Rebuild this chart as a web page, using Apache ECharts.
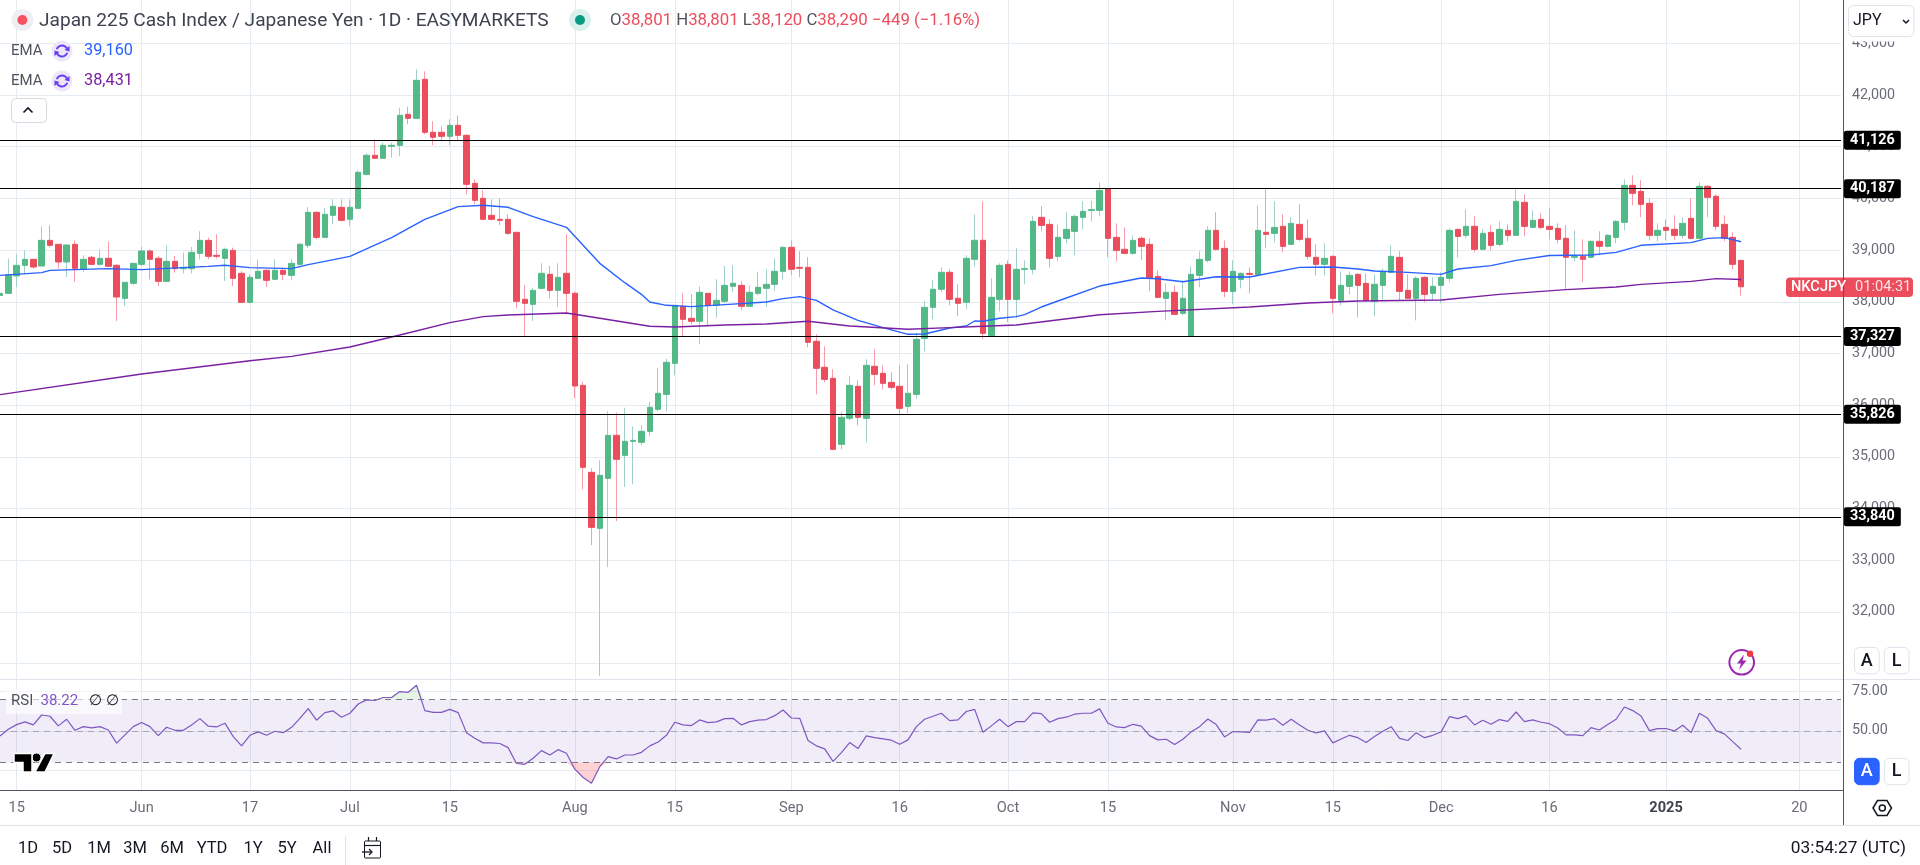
<!DOCTYPE html>
<html><head><meta charset="utf-8"><title>Japan 225</title>
<style>html,body{margin:0;padding:0;background:#fff}#c{width:1920px;height:865px}</style>
<script src="https://cdn.jsdelivr.net/npm/echarts@6/dist/echarts.min.js"></script>
</head><body><div id="c"></div>
<script>
const open=[38124,38163,38498,38705,38821,38692,39188,39111,38769,39111,
38627,38860,38724,38840,38705,38066,38357,38724,38982,38840,
38395,38782,38640,38640,38937,39188,38898,38840,38995,38550,
37989,38453,38608,38434,38608,38511,38724,39092,39730,39246,
39672,39827,39595,39807,40465,40833,40775,41007,41026,41626,
41549,42303,41278,41278,41200,41413,41220,40291,40001,39672,
39595,39595,39343,38047,37951,38260,38531,38221,38550,38163,
36383,34700,33617,34584,35416,35029,35300,35281,35493,35919,
36209,36809,37912,37680,37622,38163,37931,38009,38299,38318,
37912,38163,38260,38337,38589,39053,38666,38666,37235,36732,
36519,35242,35745,36364,35745,36751,36616,36441,36364,35977,
36209,37293,37892,38241,38570,38067,37989,38821,39189,37344,
38046,38724,38046,38627,38627,39633,39497,38878,39227,39362,
39633,39768,39768,40187,39246,39014,38936,39227,39110,38491,
38066,38182,37776,37327,38511,38801,39381,39033,38201,38433,
38549,38530,39343,39323,39459,39110,39497,39227,38859,38724,
38878,38027,38298,38530,38356,38008,38317,38569,38859,38221,
38066,38472,38163,38317,38453,39401,39285,39459,39014,39343,
39110,39381,39285,39923,39439,39594,39459,39420,39227,38860,
38879,38860,39169,39072,39246,39537,40252,40136,39904,39285,
39440,39401,39285,39614,39227,40233,40040,39498,39246,38801];
const high=[38163,38834,38916,38995,38821,39459,39479,39111,39098,39188,
38898,38885,39014,39169,38724,38376,38756,39059,39014,38885,
39092,38885,38950,39059,39363,39240,39305,39047,39047,38595,
38531,38821,38627,38821,38659,38821,39143,39833,39749,39820,
39982,39982,39982,40543,40872,41142,41078,41078,41755,41774,
42497,42458,41491,41394,41529,41607,41239,40368,40156,39982,
40001,39691,39356,38325,38273,38744,38692,38744,39305,38196,
36454,34778,34932,35880,35855,35951,35590,35610,36061,36712,
36899,37931,38163,38144,38299,38163,38434,38692,38705,38395,
38318,38570,38628,38840,39073,39189,38976,38860,37370,37138,
36693,35880,36558,36480,36886,37080,36770,36635,36770,36790,
37402,38009,38415,38666,38628,38337,38899,39690,39943,38454,
38743,38801,39033,38801,39659,39846,39594,39497,39730,39691,
39942,39949,40310,40187,39517,39439,39285,39265,39227,38607,
38356,38317,38414,38685,38975,39459,39730,39188,38801,38569,
38666,39865,40175,39942,39691,39633,39884,39594,39110,39130,
38898,38588,38588,38549,38549,38530,38646,39091,38975,38530,
38491,38491,38472,38569,39420,39401,39788,39652,39401,39478,
39556,39497,40175,40078,39768,39710,39807,39517,39479,39382,
39208,39188,39363,39305,39575,40368,40446,40349,40001,39517,
39595,39672,39633,40001,40311,40252,40078,39672,39343,38801];
const low=[38100,38150,38286,38531,38640,38692,39047,38640,38479,38382,
38576,38711,38692,38685,37628,37918,38318,38692,38434,38305,
38382,38563,38550,38550,38821,38821,38834,38402,38305,37970,
37970,38447,38286,38415,38415,38415,38692,39034,39208,39233,
39498,39562,39466,39801,40446,40775,40768,40788,40813,41433,
41549,41239,41026,41104,41026,41123,40078,39885,39575,39575,
39485,39292,37873,37344,37628,38241,38067,37899,37757,36132,
34371,33294,30760,32869,33759,34416,34468,35223,35397,35880,
35880,36577,37338,37564,37177,37531,37693,37970,38189,37841,
37899,38125,37899,38202,38434,38512,38473,37119,36209,36441,
35126,35145,35706,35610,35281,36383,36306,36306,35822,35842,
36132,37041,37660,38183,37931,37718,37854,38686,37273,37330,
37814,37601,37679,38337,38530,39362,38666,38782,39130,38898,
39401,39556,39652,38859,38782,38917,38917,38801,38201,38085,
37640,37756,37737,37327,38279,38762,38994,38085,37950,38259,
38163,38511,39033,39149,38956,39110,39168,38820,38511,38511,
37776,37930,38143,37698,38008,37718,38046,38569,38027,38066,
37640,37988,38027,37969,38375,38859,39227,38956,39014,38994,
39072,39168,39285,39265,39439,39401,39207,39130,38240,38782,
38376,38860,38898,39053,39130,39382,39866,39633,39188,39169,
39188,39188,39227,39208,39208,39633,39382,39169,38627,38120];
const close=[38163,38524,38705,38821,38672,39188,39092,38769,39098,38647,
38821,38724,38840,38685,38092,38376,38743,38982,38821,38395,
38782,38640,38666,38956,39188,38879,38879,39014,38453,37989,
38473,38589,38415,38608,38531,38743,39111,39730,39246,39691,
39846,39575,39827,40504,40833,40775,41026,41026,41607,41549,
42284,41278,41181,41200,41413,41220,40272,39962,39595,39595,
39575,39324,38008,37970,38221,38550,38221,38473,38163,36371,
34797,33636,34642,35416,34952,35300,35319,35493,35958,36229,
36828,37931,37660,37622,38183,37931,38028,38318,38357,37912,
38183,38279,38337,38589,39053,38628,38647,37215,36712,36499,
35145,35764,36383,35764,36770,36596,36422,36345,35938,36229,
37273,37892,38241,38570,38047,37970,38840,39189,37389,38086,
38704,38046,38627,38640,39556,39478,38840,39246,39401,39652,
39749,39781,40155,39227,38994,38936,39188,39072,38453,38085,
38182,37756,38066,38530,38820,39381,39014,38201,38588,38549,
38530,39381,39304,39439,39072,39517,39207,38878,38724,38840,
38066,38317,38511,38317,38027,38337,38588,38878,38201,38066,
38453,38143,38298,38472,39381,39265,39459,39014,39323,39091,
39401,39285,39942,39459,39575,39439,39401,39207,38860,38879,
38821,39169,39072,39285,39556,40252,40098,39885,39285,39382,
39382,39285,39517,39227,40233,40020,39459,39227,38724,38290];
const emaFastBars=[0,5,6,13,17,25,27,30,35,37,42,47,51,55,58,61,64,68,72,75,77,78,80,83,87,92,94,96,98,100,103,106,109,111,114,116,117,118,120,122,123,125,127,132,137,139,142,146,150,156,160,163,165,169,173,175,179,182,186,191,194,197,203,205,207,209];
const emaFast=[38511,38563,38608,38640,38621,38685,38705,38660,38640,38718,38879,39240,39595,39840,39866,39827,39646,39440,38743,38369,38144,37996,37931,37905,37944,37996,38060,38099,38028,37841,37641,37499,37370,37377,37493,37531,37628,37622,37680,37712,37750,37898,38014,38304,38459,38446,38388,38485,38479,38666,38672,38633,38595,38569,38530,38633,38698,38801,38895,38905,38956,39092,39143,39227,39240,39160];
const emaSlowBars=[0,17,30,35,42,48,54,58,61,68,72,78,81,87,92,97,102,109,114,118,122,132,139,150,157,163,173,180,188,194,197,203,206,209];
const emaSlow=[36203,36602,36860,36944,37125,37357,37596,37712,37744,37783,37680,37525,37512,37551,37570,37622,37531,37467,37499,37525,37551,37750,37814,37898,37976,38014,38034,38143,38234,38286,38337,38395,38447,38431];
const rsi=[46.7,50.9,53.9,55.6,53.7,60.0,59.2,53.1,57.3,50.3,52.6,51.8,52.6,50.5,42.1,47.4,52.6,55.2,52.6,46.9,52.2,50.3,50.3,53.7,57.7,52.9,52.4,54.8,46.3,40.4,47.1,49.3,47.1,49.7,48.8,52.2,57.9,64.1,56.7,61.5,62.6,58.6,61.1,67.0,69.6,69.2,71.1,71.1,74.9,74.4,78.9,62.8,61.7,61.7,63.6,61.5,48.8,45.2,42.3,42.3,41.9,39.3,29.2,28.7,32.5,37.4,34.6,38.0,35.7,25.6,20.3,16.7,27.2,33.6,32.1,34.6,34.6,36.3,40.4,42.9,47.1,55.4,53.7,53.3,56.9,55.2,55.6,57.7,57.9,53.7,55.8,56.7,57.1,59.6,63.2,58.1,57.9,43.8,40.4,38.5,30.6,36.1,42.5,38.7,46.7,45.6,44.8,44.0,41.4,44.2,52.6,57.3,59.2,61.1,56.4,
56.9,62.2,63.6,49.0,53.1,57.3,52.6,55.8,55.8,61.3,60.9,55.4,57.7,58.6,60.5,61.1,61.1,63.9,54.8,52.4,52.0,54.1,52.9,46.9,44.2,44.6,41.2,44.6,49.3,52.6,57.5,53.9,46.1,49.5,49.3,49.0,56.9,56.7,57.7,53.5,57.3,53.7,50.3,48.6,49.9,42.3,44.8,47.1,45.6,42.5,46.3,49.7,52.6,45.2,43.8,48.8,45.6,47.1,49.3,59.0,57.7,59.4,53.7,56.7,54.1,57.1,56.0,61.9,55.8,56.9,55.4,54.5,51.8,47.4,47.4,46.9,52.0,50.5,53.9,57.3,65.1,62.8,59.4,50.1,51.4,51.4,49.9,53.5,48.8,61.1,57.9,50.1,48.0,43.1,38.22];
const levels=[41126,40187,37327,35826,33840];
const tickDates=['2024-05-15','2024-06-02','2024-06-17','2024-07-01','2024-07-15','2024-08-01','2024-08-15','2024-09-01','2024-09-16','2024-10-01','2024-10-15','2024-11-01','2024-11-15','2024-12-01','2024-12-16','2025-01-01','2025-01-20'];
const tickLabels=['15','Jun','17','Jul','15','Aug','15','Sep','16','Oct','15','Nov','15','Dec','16','2025','20'];
const rangeButtons=['1D','5D','1M','3M','6M','YTD','1Y','5Y','All'];
const rangeX=[28,62,99,135,172,212,253,287,322];

// trading calendar: the feed has Sunday-to-Friday daily bars
const categories=[];
for(let t=Date.UTC(2024,4,13);categories.length<222;t+=864e5){
  const d=new Date(t); if(d.getUTCDay()!==6) categories.push(d.toISOString().slice(0,10));
}
const tickSet=new Set(tickDates);
const isTick=(i,v)=>tickSet.has(v===undefined?categories[i]:v);
const UP='#53b987',DOWN='#eb4d5c',WUP='#a3cfcb',WDOWN='#f79bab',GRID='#e4ebf1',AX='#50535e',TXT='#6a6d78';
const FONT='Roboto, sans-serif';
const wicks=open.map((o,i)=>[o,close[i],low[i],high[i]]);
const bodies=open.map((o,i)=>[o,close[i],Math.min(o,close[i]),Math.max(o,close[i])]);
const pair=(b,v)=>b.map((x,i)=>[x,v[i]]);
const lowBand=rsi.map((v,i)=>(v<30||rsi[i-1]<30||rsi[i+1]<30)?Math.min(v,30):null);
const highBand=rsi.map((v,i)=>(v>70||rsi[i-1]>70||rsi[i+1]>70)?Math.max(v,70):null);

const W=1841;
const txt=(x,y,s,o={})=>({type:'text',z:o.z||60,silent:true,x,y,style:Object.assign({text:s,fill:'#131722',font:(o.weight||'400')+' '+(o.size||15)+'px '+FONT,textAlign:o.align||'left',textVerticalAlign:'middle'},o.style||{})});
const box=(x,y,w,h,fill,stroke,r,z)=>({type:'rect',z:z||55,silent:true,shape:{x,y,width:w,height:h,r:r||0},style:{fill,stroke:stroke||null,lineWidth:stroke?1:0}});
const ln=(x1,y1,x2,y2,c,lw,z)=>({type:'line',z:z||50,silent:true,shape:{x1,y1,x2,y2},style:{stroke:c,lineWidth:lw||1}});
const circ=(cx,cy,r,fill,stroke,lw)=>({type:'circle',z:56,silent:true,shape:{cx,cy,r},style:{fill:fill||null,stroke:stroke||null,lineWidth:lw||0}});
const poly=(pts,fill,stroke,lw,z)=>({type:'polygon',z:z||57,silent:true,shape:{points:pts},style:{fill,stroke:stroke||null,lineWidth:lw||0}});
const pl=(pts,stroke,lw)=>({type:'polyline',z:57,silent:true,shape:{points:pts},style:{fill:null,stroke,lineWidth:lw||1.5}});
const arc=(cx,cy,r,a,b,stroke,lw)=>({type:'arc',z:57,silent:true,shape:{cx,cy,r,startAngle:a,endAngle:b,clockwise:true},style:{fill:null,stroke,lineWidth:lw}});
function emaIcon(cx,cy){const c='#6a3df0';return [circ(cx,cy,10.5,'#ede7fb'),arc(cx,cy,5.5,Math.PI*1.1,Math.PI*1.85,c,2),arc(cx,cy,5.5,Math.PI*0.1,Math.PI*0.85,c,2),poly([[cx+7.5,cy-5],[cx+7.5,cy+0.5],[cx+2.5,cy-1]],c),poly([[cx-7.5,cy+5],[cx-7.5,cy-0.5],[cx-2.5,cy+1]],c)];}
function scaleBtn(x,y,s,active){return [box(x,y,24.7,26.4,active?'#2962ff':'#fff',active?'#2962ff':'#e0e3eb',5,58),txt(x+12.3,y+13.5,s,{size:18,align:'center',weight:'500',z:60,style:{fill:active?'#fff':'#131722'}})];}

const graphics=[
  ln(0,679.5,1920,679.5,'#e0e3eb',1),
  ln(0,825.5,1920,825.5,'#e0e3eb',1),
  ln(1843.5,0,1843.5,825,AX,1),
  ln(0,790.5,1843,790.5,AX,1),
  circ(22.4,20,11,'#eeeef3'),circ(22.4,20,5,'#f7525f'),
  txt(39,21,'Japan 225 Cash Index / Japanese Yen · 1D · EASYMARKETS',{size:19.1,style:{fill:'#3e4350'}}),
  circ(580,20,11,'#d9f0ec'),circ(580,20,5,'#089981'),
  {type:'text',z:60,silent:true,x:610,y:21,style:{text:'{g|O}{r|38,801} {g|H}{r|38,801} {g|L}{r|38,120} {g|C}{r|38,290} {r|−449 (−1.16%)}',textVerticalAlign:'middle',font:'16.8px '+FONT,rich:{g:{fill:'#50535e',font:'16.8px '+FONT},r:{fill:'#eb4d5c',font:'16.8px '+FONT}}}},
  txt(11,51,'EMA',{size:15,style:{fill:'#50535e'}}),
  txt(84,51,'39,160',{size:16.3,style:{fill:'#2962ff'}}),
  txt(11,81,'EMA',{size:15,style:{fill:'#50535e'}}),
  txt(84,81,'38,431',{size:16.3,style:{fill:'#7b1fa2'}}),
  ...emaIcon(62,51),...emaIcon(62,81),
  box(11.5,98.5,35,24,'#fff','#d6d8e0',4),
  pl([[23.5,112.5],[28,108],[32.5,112.5]],'#131722',1.6),
  box(1844,0,76,41.5,'#fff',null,0,54),
  box(1848.5,5.5,65.5,31,'#fff','#e0e3eb',5,55),
  txt(1853,21,'JPY',{size:16,style:{fill:'#131722'}}),
  pl([[1903,20],[1906,23],[1909,20]],'#131722',1.5),
  box(1844,645,76,34,'#fff',null,0,54),
  ({type:'rect',z:58,silent:true,shape:{x:1786,y:277.5,width:57,height:19.5,r:[4,0,0,4]},style:{fill:DOWN}}),
  ({type:'rect',z:58,silent:true,shape:{x:1844,y:277.5,width:69,height:19.5,r:[0,4,4,0]},style:{fill:DOWN}}),
  txt(1791,287.5,'NKCJPY',{size:14.6,weight:'500',style:{fill:'#fff'}}),
  txt(1855,287.5,'01:04:31',{size:14.6,style:{fill:'#fde3e6'}}),
  circ(1741.7,662.3,12.3,null,'#9c27b0',2),
  poly([[1744,654.5],[1737,663.5],[1741,663.5],[1739,670],[1746.5,660.5],[1742.5,660.5]],'#9c27b0'),
  circ(1750,653.7,3.2,'#f23645'),
  ...scaleBtn(1854.5,647.5,'A',false),...scaleBtn(1884.3,647.5,'L',false),
  ...scaleBtn(1854.5,758.3,'A',true),...scaleBtn(1884.3,758.3,'L',false),
  poly([[1873,808],[1877.5,800.5],[1887,800.5],[1891.5,808],[1887,815.5],[1877.5,815.5]],null,'#131722',1.5),
  circ(1882.3,808,3,null,'#131722',1.5),
  box(6,689,116,25,'rgba(255,255,255,0.6)',null,0,52),
  {type:'text',z:60,silent:true,x:11,y:701,style:{text:'{a|RSI}  {b|38.22}   {c|∅} {c|∅}',textVerticalAlign:'middle',font:'14.6px '+FONT,rich:{a:{fill:'#50535e',font:'15px '+FONT},b:{fill:'#7e57c2',font:'15px '+FONT},c:{fill:'#131722',font:'15px '+FONT}}}},
  poly([[14,753.5],[32,753.5],[32,772],[23,772],[23,762.5],[14,762.5]],'#000','#fff',1.5),
  circ(36.5,757.5,4.5,'#000','#fff',1),
  poly([[45,753.5],[54,753.5],[45,772],[35,772]],'#000','#fff',1.5),
  ln(345.5,836,345.5,865,'#e0e3eb',1),
  box(364.5,841,16,17,'#fff','#131722',1,56),
  ln(364.5,845.5,380.5,845.5,'#131722',1.2,57),
  ln(368.5,837,368.5,841,'#131722',1.2,57),ln(376.5,837,376.5,841,'#131722',1.2,57),
  pl([[362,852],[372,852]],'#131722',1.3),pl([[369,849],[372,852],[369,855]],'#131722',1.3),
  txt(1906,848.5,'03:54:27 (UTC)',{size:17.3,align:'right'}),
  ...rangeButtons.map((s,i)=>txt(rangeX[i],848.5,s,{size:16.5,align:'center'}))
];

const chart=echarts.init(document.getElementById('c'),null,{renderer:'canvas'});
const priceAxis={gridIndex:0,type:'value',position:'right',min:30000,max:44000,interval:1000,scale:true,
  axisLine:{show:false},axisTick:{show:false},
  splitLine:{show:true,showMinLine:false,showMaxLine:false,lineStyle:{color:GRID,width:1}},
  axisLabel:{margin:11,color:TXT,fontFamily:FONT,fontSize:14.3,showMinLabel:false,showMaxLabel:false,formatter:v=>v.toLocaleString('en-US')}};
const rsiAxis={gridIndex:1,type:'value',position:'right',min:0,max:100,interval:25,
  axisLine:{show:false},axisTick:{show:false},
  splitLine:{show:true,showMinLine:false,showMaxLine:false,lineStyle:{color:GRID,width:1}},
  axisLabel:{margin:11,color:TXT,fontFamily:FONT,fontSize:14.3,formatter:v=>(v===75||v===50)?v.toFixed(2):''}};
const hiddenX=g=>({gridIndex:g,type:'category',data:categories,boundaryGap:false,show:true,axisLine:{show:false},axisTick:{show:false},axisLabel:{show:false},splitLine:{show:false}});
chart.setOption({
  animation:false,backgroundColor:'#fff',
  grid:[{outerBoundsMode:'none',left:0,width:W,top:-8.4,height:723.7},{outerBoundsMode:'none',left:0,width:W,top:652,height:157.5},{outerBoundsMode:'none',left:0,width:W,top:0,height:790}],
  xAxis:[hiddenX(0),hiddenX(1),{gridIndex:2,type:'category',data:categories,boundaryGap:false,position:'bottom',
    axisLine:{show:false},axisTick:{show:false},
    splitLine:{show:true,interval:isTick,lineStyle:{color:GRID,width:1}},
    axisLabel:{show:true,interval:isTick,margin:11,color:TXT,fontFamily:FONT,fontSize:14.6,hideOverlap:false,
      formatter:v=>{const l=tickLabels[tickDates.indexOf(v)];return l==='2025'?'{b|2025}':(l||'');},
      rich:{b:{fontWeight:'bold',color:'#3e4350',fontFamily:FONT,fontSize:14.6}}}}],
  yAxis:[priceAxis,rsiAxis,{gridIndex:2,type:'value',show:false,min:0,max:1}],
  series:[
    {name:'EMA 50',type:'line',xAxisIndex:0,yAxisIndex:0,data:pair(emaFastBars,emaFast),showSymbol:false,symbol:'none',lineStyle:{color:'#2962ff',width:1.4},silent:true},
    {name:'EMA 200',type:'line',xAxisIndex:0,yAxisIndex:0,data:pair(emaSlowBars,emaSlow),showSymbol:false,symbol:'none',lineStyle:{color:'#7b1fa2',width:1.4},silent:true,
      markLine:{silent:true,symbol:'none',animation:false,precision:0,lineStyle:{color:'#000',width:1.2,type:'solid'},
        label:{show:true,position:'end',distance:3,formatter:p=>p.value.toLocaleString('en-US'),backgroundColor:'#000',color:'#fff',fontFamily:FONT,fontSize:14.4,fontWeight:700,padding:[2.5,6,2.5,6],borderRadius:2},
        data:levels.map(v=>({yAxis:v}))}},
    {name:'Wicks',type:'candlestick',xAxisIndex:0,yAxisIndex:0,data:wicks,barWidth:1,silent:true,
      itemStyle:{color:WUP,color0:WDOWN,borderColor:WUP,borderColor0:WDOWN,borderWidth:1}},
    {name:'Bodies',type:'candlestick',xAxisIndex:0,yAxisIndex:0,data:bodies,barWidth:6,silent:true,
      itemStyle:{color:UP,color0:DOWN,borderColor:UP,borderColor0:DOWN,borderWidth:1}},
    {name:'RSI',type:'line',xAxisIndex:1,yAxisIndex:1,data:rsi,showSymbol:false,symbol:'none',lineStyle:{color:'#7e57c2',width:1.2},silent:true,z:4,
      markArea:{silent:true,itemStyle:{color:'rgba(126,87,194,0.11)'},data:[[{yAxis:30},{yAxis:70}]]},
      markLine:{silent:true,symbol:'none',animation:false,label:{show:false},
        data:[{yAxis:70,lineStyle:{color:'#787b86',type:[6,5],width:1}},{yAxis:50,lineStyle:{color:'rgba(120,123,134,0.55)',type:[6,5],width:1}},{yAxis:30,lineStyle:{color:'#787b86',type:[6,5],width:1}}]}},
    {name:'Oversold',type:'line',xAxisIndex:1,yAxisIndex:1,data:lowBand,showSymbol:false,symbol:'none',lineStyle:{width:0,opacity:0},silent:true,connectNulls:false,z:3,
      areaStyle:{origin:30,color:'rgba(242,54,69,0.32)'}},
    {name:'Overbought',type:'line',xAxisIndex:1,yAxisIndex:1,data:highBand,showSymbol:false,symbol:'none',lineStyle:{width:0,opacity:0},silent:true,connectNulls:false,z:3,
      areaStyle:{origin:70,color:'rgba(76,175,80,0.2)'}}
  ],
  graphic:{elements:graphics}
});
</script></body></html>
